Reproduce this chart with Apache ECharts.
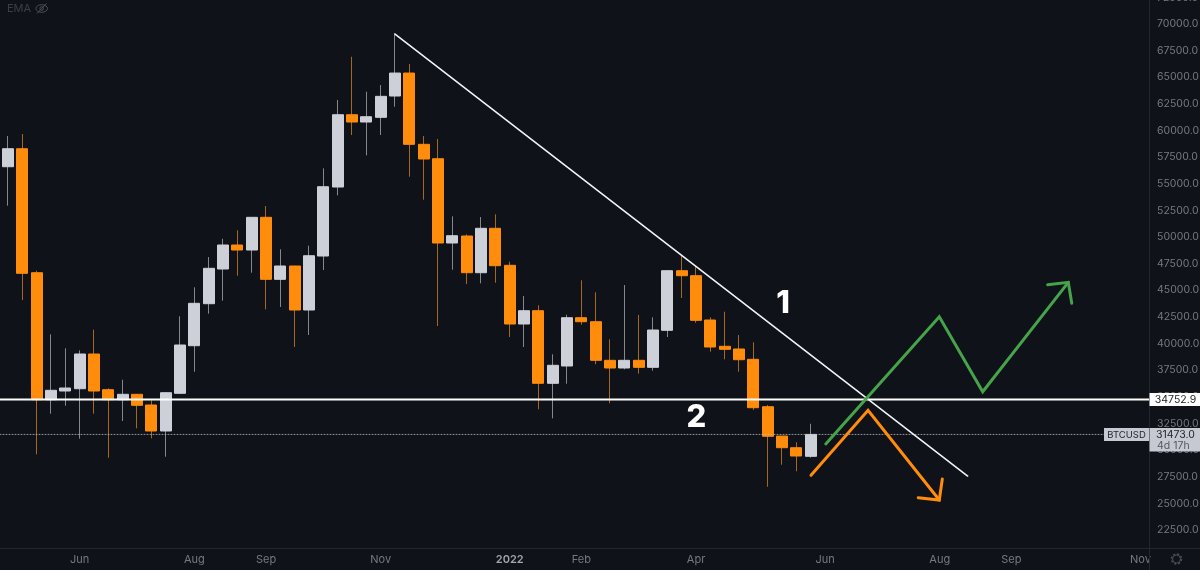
<!DOCTYPE html>
<html><head><meta charset="utf-8">
<style>html,body{margin:0;padding:0;background:#0f1219}#c{width:1200px;height:570px}</style>
<script src="https://cdn.jsdelivr.net/npm/echarts@6/dist/echarts.min.js"></script>
</head><body><div id="c"></div>
<script>
const opens=[56605,58294,46655,34733,35550,35766,39023,35672,34733,35240,34236,31795,35334,39802,43745,47002,49255,48785,51855,46035,47284,43153,48222,54699,61486,60801,61242,63241,65400,58708,57356,49443,50100,46655,50823,47349,41839,43088,36273,37897,42430,42055,38431,37709,38431,37774,41248,46842,46373,42215,39746,39492,38525,34076,31319,30227,29420];
const closes=[58294,46598,34733,35616,35831,39023,35550,34733,35240,34207,31795,35390,39868,43782,47067,49255,48785,51855,46035,47284,43153,48250,54727,61486,60801,61298,63213,65400,58708,57328,49443,50128,46655,50823,47312,41839,43088,36273,37962,42430,42055,38431,37709,38431,37774,41276,46842,46373,42186,39680,39464,38488,33982,31297,30227,29448,31473];
const lows=[52944,44092,29608,33419,34170,31072,33419,29289,32734,32048,31110,29383,35296,37362,42806,44026,46373,46655,43219,43435,39680,40807,46908,53920,59581,57675,59581,62237,55666,53507,41651,46936,45594,45659,45716,40619,39680,33832,32987,36235,41773,38056,34395,37587,37174,37455,40619,44280,41961,39239,38525,37362,33766,26567,28632,28012,29289];
const highs=[59487,59674,46842,40872,39558,39370,41304,35803,36610,35268,34677,35408,42562,45284,48128,49846,50635,51883,52916,48851,47312,49189,56455,62866,66931,63645,64274,69127,66245,59487,59205,51949,50259,51883,52136,47687,44467,43595,38995,42712,45941,44815,40403,45500,42684,42468,46908,48316,47312,42468,42994,40807,40121,34236,31326,30734,32480];
const timeTickIndex=[5,13,18,26,35,40,48,57,65,70,79];
const timeTickLabels=['Jun','Aug','Sep','Nov','2022','Feb','Apr','Jun','Aug','Sep','Nov'];
const priceTicks=[22500,25000,27500,30000,32500,35000,37500,40000,42500,45000,47500,50000,52500,55000,57500,60000,62500,65000,67500,70000,72500];
const levelPrice=34752.9;
const lastPrice=31473.0;
const trendLine=[[27,69061],[66.95,27570]];
const greenPath=[[57.05,30575],[64.97,42524],[68,35484],[73.97,45753]];
const greenHead=[[72.53,45528],[73.97,45753],[74.21,43782]];
const orangePath=[[56.02,27636],[60,33738],[64.97,25318]];
const orangeHead=[[65.18,27289],[64.97,25318],[63.5,25534]];
const notes=[[54.07,43904,'1'],[48.02,33203,'2']];

const BG='#0f1219',ORANGE='#ff8c0a',GRAY='#cdd0d9',WICK_O='#a5681f',WICK_G='#85878e',AXIS='#23262e',TXT='#767982',FONT='Inter, "Noto Sans", sans-serif';
const xMin=-0.558,xMax=79.6,yMin=20812,yMax=72500;
const line=(data,color,width,type)=>({type:'line',data,symbol:'none',silent:true,z:5,
  lineStyle:{color,width,type:type||'solid',cap:'round',join:'miter'}});
const wickData=opens.map((o,i)=>[i,o,closes[i],lows[i],highs[i]]);
const bodyData=opens.map((o,i)=>[i,o,closes[i],Math.min(o,closes[i]),Math.max(o,closes[i])]);
const chart=echarts.init(document.getElementById('c'),null,{renderer:'canvas'});
chart.setOption({
  animation:false,backgroundColor:BG,
  grid:{left:0,top:-2.6,width:1149,height:550.6,containLabel:false,outerBoundsMode:'none'},
  xAxis:{type:'value',min:xMin,max:xMax,splitLine:{show:false},axisLine:{show:false},axisTick:{show:false},
    axisLabel:{customValues:timeTickIndex,margin:6,color:TXT,fontFamily:FONT,fontSize:11,
      formatter:v=>{const s=timeTickLabels[timeTickIndex.indexOf(v)];return s==='2022'?'{y|2022}':s;},
      rich:{y:{color:'#a3a6ad',fontWeight:600,fontFamily:FONT,fontSize:11}}}},
  yAxis:{type:'value',position:'right',min:yMin,max:yMax,splitLine:{show:false},axisLine:{show:false},axisTick:{show:false},
    axisLabel:{customValues:priceTicks,margin:8,color:TXT,fontFamily:FONT,fontSize:10.5,formatter:v=>v.toFixed(1)}},
  series:[
    {type:'candlestick',data:wickData,encode:{x:0,y:[1,2,3,4]},barWidth:1.2,silent:true,z:2,
      itemStyle:{color:WICK_G,color0:WICK_O,borderColor:WICK_G,borderColor0:WICK_O,borderWidth:1}},
    {type:'candlestick',data:bodyData,encode:{x:0,y:[1,2,3,4]},barWidth:11.4,silent:true,z:3,
      itemStyle:{color:GRAY,color0:ORANGE,borderColor:GRAY,borderColor0:ORANGE,borderWidth:1}},
    line([[xMin,lastPrice],[xMax,lastPrice]],'rgba(190,193,200,0.75)',1,[1,2]),
    line([[xMin,levelPrice],[xMax,levelPrice]],'#ffffff',2),
    line(trendLine,'#f2f3f5',1.6),
    line(greenPath,'#45a349',3),line(greenHead,'#45a349',3),
    line(orangePath,ORANGE,3),line(orangeHead,ORANGE,3),
    {type:'scatter',data:notes,symbolSize:1,itemStyle:{color:'transparent',opacity:1},silent:true,z:6,
      label:{show:true,position:'inside',offset:[0,2],formatter:p=>p.value[2],color:'#fff',fontFamily:FONT,fontWeight:800,fontSize:31}}
  ]
});
const yOf=v=>chart.convertToPixel({yAxisIndex:0},v);
const yLevel=yOf(levelPrice),yLast=yOf(lastPrice);
const tag=(x,y,w,h,fill)=>({type:'rect',z:20,shape:{x,y,width:w,height:h},style:{fill}});
const txt=(x,y,text,fill,size,align)=>({type:'text',z:21,x,y,style:{text,fill,fontFamily:FONT,fontSize:size,align:align||'left',verticalAlign:'middle'}});
const ln=(x1,y1,x2,y2,c,w)=>({type:'line',z:15,shape:{x1,y1,x2,y2},style:{stroke:c,lineWidth:w||1}});
chart.setOption({graphic:[
  ln(0,548.5,1200,548.5,AXIS),ln(1149.5,0,1149.5,570,AXIS),
  tag(1149.5,yLevel-6.5,51,13,'#ffffff'),
  txt(1175.5,yLevel+0.5,levelPrice.toFixed(1),'#1b1e26',10.5,'center'),
  tag(1104,yLast-6.5,45,13,'#c6c9d2'),
  txt(1126.5,yLast+0.5,'BTCUSD','#23262e',9.5,'center'),
  tag(1149.5,yLast-6.5,51,23.5,'#c6c9d2'),
  txt(1175.5,yLast+0.5,lastPrice.toFixed(1),'#23262e',10.5,'center'),
  txt(1157,yLast+11,'4d 17h','#555862',10.5,'left'),
  txt(7,9,'EMA','#3b3f49',11),
  {type:'ellipse',z:15,shape:{cx:41.7,cy:8.5,rx:5.8,ry:3.8},style:{fill:'none',stroke:'#4b4f59',lineWidth:1}},
  {type:'circle',z:15,shape:{cx:41.7,cy:8.5,r:1.8},style:{fill:'none',stroke:'#4b4f59',lineWidth:1}},
  ln(37,13.5,46.5,3.5,'#4b4f59',1),
  {type:'circle',z:15,shape:{cx:1176.5,cy:559,r:4},style:{fill:'none',stroke:'#4a4e58',lineWidth:1}},
  {type:'circle',z:15,shape:{cx:1176.5,cy:559,r:5},style:{fill:'none',stroke:'#4a4e58',lineWidth:1.5,lineDash:[2,1.93]}}
]});
</script></body></html>
